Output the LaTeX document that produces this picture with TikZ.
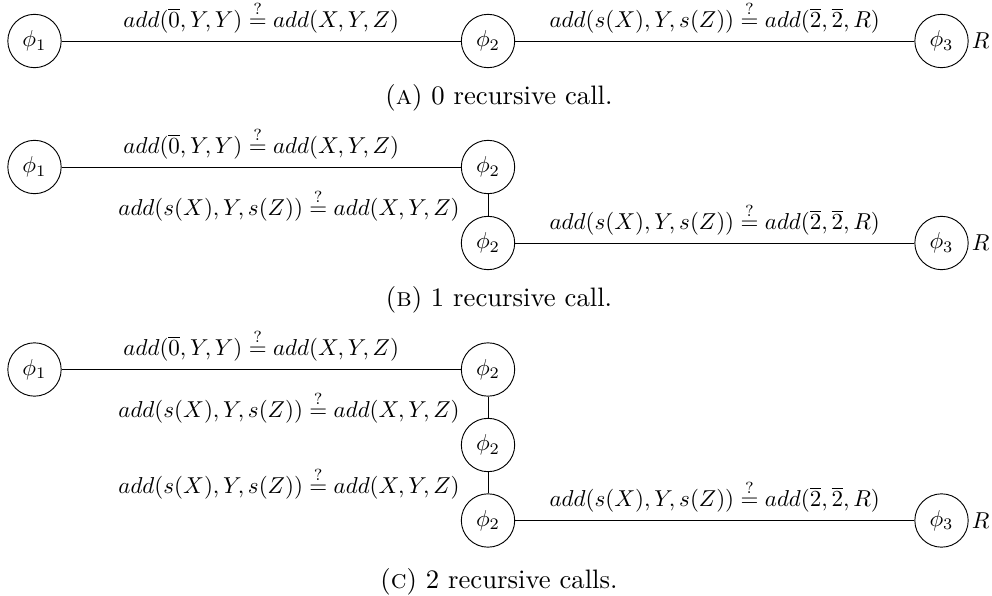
\documentclass[tikz,border=0pt]{standalone}
\usepackage{amsmath}
\usepackage{graphicx}
\newcommand{\capsc}[1]{\scalebox{1.16}{#1}}
\begin{document}
\begin{tikzpicture}[x=0.43478pt, y=-0.43478pt,
  st/.style={draw, circle, minimum size=23.2pt, inner sep=0pt},
  ed/.style={draw},
  captxt/.style={inner sep=0pt},
  rl/.style={right, inner sep=1.2pt}]
\useasboundingbox (0,0) rectangle (992,596);
% panel A
\node[st] (a1) at (34.5,41) {$\phi_1$};
\node[st] (a2) at (488,41) {$\phi_2$};
\node[st] (a3) at (941.5,41) {$\phi_3$};
\node[rl] (ar) at (a3.east) {$R$};
\draw[ed] (a1) -- node[midway, above] {$add(\overline{0},Y,Y)\stackrel{?}{=}add(X,Y,Z)$} (a2);
\draw[ed] (a2) -- node[midway, above] {$add(s(X),Y,s(Z))\stackrel{?}{=}add(\overline{2},\overline{2},R)$} (a3);
\node[captxt] (capa) at (499,97.5) {\capsc{(\textsc{a})\ 0 recursive call.}};
% panel B
\node[st] (b1) at (34.5,167) {$\phi_1$};
\node[st] (b2) at (488,167) {$\phi_2$};
\node[st] (b3) at (488,243) {$\phi_2$};
\node[st] (b4) at (941.5,243) {$\phi_3$};
\node[rl] (br) at (b4.east) {$R$};
\draw[ed] (b1) -- node[midway, above] {$add(\overline{0},Y,Y)\stackrel{?}{=}add(X,Y,Z)$} (b2);
\draw[ed] (b2) -- node[midway, left=8.8pt] {$add(s(X),Y,s(Z))\stackrel{?}{=}add(X,Y,Z)$} (b3);
\draw[ed] (b3) -- node[midway, above] {$add(s(X),Y,s(Z))\stackrel{?}{=}add(\overline{2},\overline{2},R)$} (b4);
\node[captxt] (capb) at (499,300) {\capsc{(\textsc{b})\ 1 recursive call.}};
% panel C
\node[st] (c1) at (34.5,369.5) {$\phi_1$};
\node[st] (c2) at (488,369.5) {$\phi_2$};
\node[st] (c3) at (488,445) {$\phi_2$};
\node[st] (c4) at (488,520.5) {$\phi_2$};
\node[st] (c5) at (941.5,520.5) {$\phi_3$};
\node[rl] (cr) at (c5.east) {$R$};
\draw[ed] (c1) -- node[midway, above] {$add(\overline{0},Y,Y)\stackrel{?}{=}add(X,Y,Z)$} (c2);
\draw[ed] (c2) -- node[midway, left=8.8pt] {$add(s(X),Y,s(Z))\stackrel{?}{=}add(X,Y,Z)$} (c3);
\draw[ed] (c3) -- node[midway, left=8.8pt] {$add(s(X),Y,s(Z))\stackrel{?}{=}add(X,Y,Z)$} (c4);
\draw[ed] (c4) -- node[midway, above] {$add(s(X),Y,s(Z))\stackrel{?}{=}add(\overline{2},\overline{2},R)$} (c5);
\node[captxt] (capc) at (499,581.5) {\capsc{(\textsc{c})\ 2 recursive calls.}};
\end{tikzpicture}
\end{document}
